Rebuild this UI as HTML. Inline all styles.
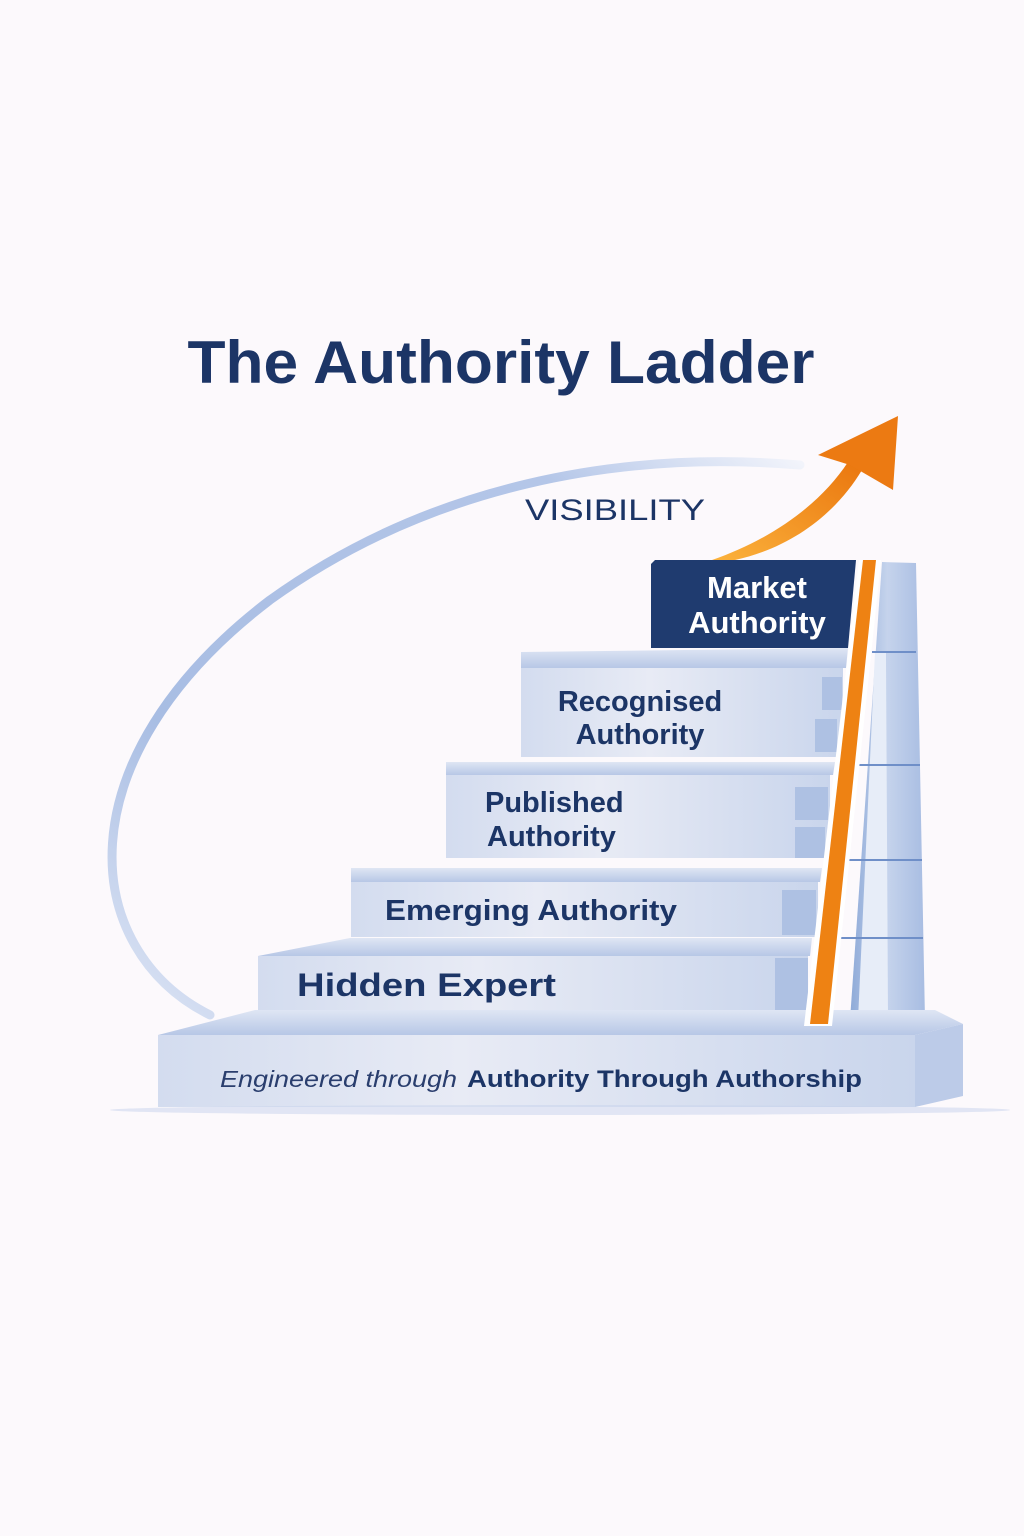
<!DOCTYPE html>
<html><head><meta charset="utf-8"><style>
html,body{margin:0;padding:0;background:#fcf9fc}
svg{display:block}
text{font-family:"Liberation Sans",sans-serif}
</style></head><body>
<svg width="1024" height="1536" viewBox="0 0 1024 1536" xmlns="http://www.w3.org/2000/svg">
<defs>
<linearGradient id="fr" x1="0" x2="1" y1="0" y2="0">
<stop offset="0" stop-color="#d3dcef"/><stop offset="0.4" stop-color="#e8ebf5"/><stop offset="1" stop-color="#c9d5ec"/></linearGradient>
<linearGradient id="tp" x1="0" x2="0" y1="0" y2="1">
<stop offset="0" stop-color="#dfe6f4"/><stop offset="1" stop-color="#b7c7e6"/></linearGradient>
<linearGradient id="arc" x1="0" x2="1" y1="1" y2="0">
<stop offset="0" stop-color="#dfe6f5"/><stop offset="0.3" stop-color="#a8bde3"/><stop offset="0.8" stop-color="#b4c6e8"/><stop offset="1" stop-color="#f2f4fb"/></linearGradient>
<linearGradient id="or" x1="0" x2="1" y1="1" y2="0">
<stop offset="0" stop-color="#fbb23c"/><stop offset="1" stop-color="#ea760e"/></linearGradient>
<linearGradient id="col" x1="0" x2="1">
<stop offset="0" stop-color="#8eaad8"/><stop offset="0.5" stop-color="#c5d3ec"/><stop offset="1" stop-color="#a8bde2"/></linearGradient>
</defs>
<rect width="1024" height="1536" fill="#fcf9fc"/>
<text x="501" y="383" text-anchor="middle" font-size="60" font-weight="bold" fill="#1c3566" textLength="627" lengthAdjust="spacingAndGlyphs">The Authority Ladder</text>
<path d="M210 1015 C80 950 60 760 270 600 C430 485 620 450 800 465" fill="none" stroke="url(#arc)" stroke-width="9" stroke-linecap="round"/>
<text x="615" y="520" text-anchor="middle" font-size="30" fill="#1c3566" textLength="180" lengthAdjust="spacingAndGlyphs">VISIBILITY</text>
<path d="M712 560 C770 540 820 505 848 462 L862 470 C835 515 790 548 735 560 Z" fill="url(#or)"/>
<polygon points="898,416 818,455 850,465 893,490" fill="#ec7a12"/>
<polygon points="882,562 916,563 925,1020 850,1020" fill="url(#col)"/>
<polygon points="875,652 886,652 888,1020 858,1020" fill="#e7edf8"/>
<g stroke="#6f8fc8" stroke-width="2"><line x1="872" y1="652" x2="916" y2="652"/><line x1="858" y1="765" x2="920" y2="765"/><line x1="848" y1="860" x2="922" y2="860"/><line x1="840" y1="938" x2="923" y2="938"/></g>
<polygon points="255,1010 935,1010 963,1024 915,1035 158,1035" fill="url(#tp)"/>
<rect x="158" y="1035" width="757" height="72" fill="url(#fr)"/>
<polygon points="915,1035 963,1024 963,1096 915,1107" fill="#bccbe8"/>
<text x="220" y="1087" font-size="23" font-style="italic" fill="#2a3e6e" textLength="237" lengthAdjust="spacingAndGlyphs">Engineered through</text>
<text x="467" y="1087" font-size="24" font-weight="bold" fill="#1c3566" textLength="395" lengthAdjust="spacingAndGlyphs">Authority Through Authorship</text>
<polygon points="350,938 812,938 810,956 258,956" fill="url(#tp)"/>
<rect x="258" y="956" width="550" height="54" fill="url(#fr)"/>
<rect x="775" y="958" width="33" height="52" fill="#aec1e3"/>
<text x="297" y="996" font-size="32" font-weight="bold" fill="#1c3566" textLength="259" lengthAdjust="spacingAndGlyphs">Hidden Expert</text>
<polygon points="351,868 822,868 820,882 351,882" fill="url(#tp)"/>
<rect x="351" y="882" width="467" height="55" fill="url(#fr)"/>
<rect x="782" y="890" width="34" height="45" fill="#aec1e3"/>
<text x="385" y="920" font-size="29" font-weight="bold" fill="#1c3566" textLength="292" lengthAdjust="spacingAndGlyphs">Emerging Authority</text>
<polygon points="446,762 835,762 833,775 446,775" fill="url(#tp)"/>
<rect x="446" y="775" width="384" height="83" fill="url(#fr)"/>
<rect x="795" y="787" width="33" height="33" fill="#aec1e3"/><rect x="795" y="827" width="30" height="31" fill="#aec1e3"/>
<text x="485" y="812" font-size="29" font-weight="bold" fill="#1c3566">Published</text>
<text x="487" y="846" font-size="29" font-weight="bold" fill="#1c3566">Authority</text>
<polygon points="521,652 848,648 846,668 521,668" fill="url(#tp)"/>
<rect x="521" y="668" width="322" height="89" fill="url(#fr)"/>
<rect x="822" y="677" width="20" height="33" fill="#aec1e3"/><rect x="815" y="719" width="22" height="33" fill="#aec1e3"/>
<text x="640" y="711" text-anchor="middle" font-size="29" font-weight="bold" fill="#1c3566">Recognised</text>
<text x="640" y="744" text-anchor="middle" font-size="29" font-weight="bold" fill="#1c3566">Authority</text>
<path d="M655 560 L856 560 L848 648 L651 648 L651 564 Z" fill="#1f3b6f"/>
<text x="757" y="598" text-anchor="middle" font-size="31" font-weight="bold" fill="#fff">Market</text>
<text x="757" y="633" text-anchor="middle" font-size="31" font-weight="bold" fill="#fff">Authority</text>
<polygon points="859,560 881,560 832,1026 804,1026" fill="#fff"/>
<polygon points="863,560 876,560 828,1024 810,1024" fill="#ee8213"/>
<ellipse cx="560" cy="1110" rx="450" ry="5" fill="#c5d2ec" opacity="0.5"/>
</svg>
</body></html>
